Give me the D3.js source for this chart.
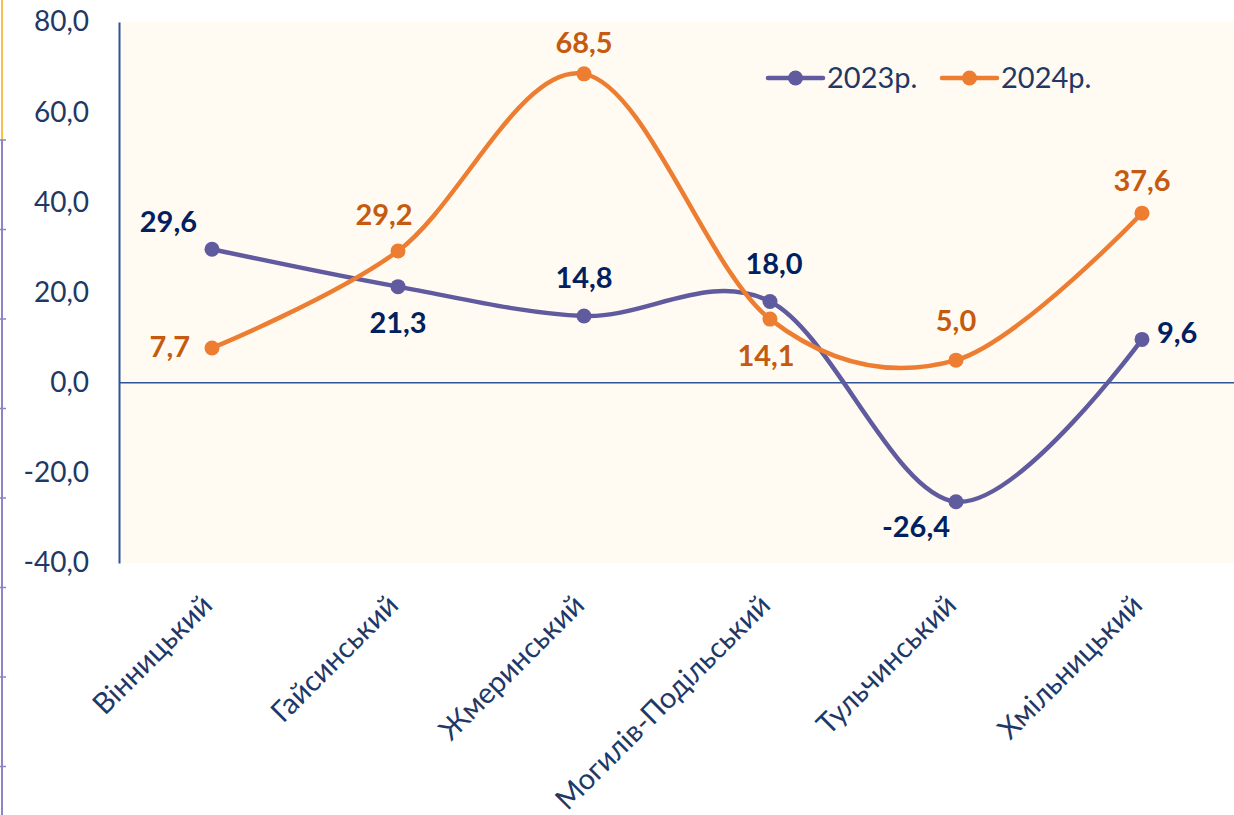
<!DOCTYPE html>
<html>
<head>
<meta charset="utf-8">
<script src="https://cdn.jsdelivr.net/npm/d3@7"></script>
<style>
  body { margin: 0; background: #fff; }
  svg { display: block; font-family: Lato, "Liberation Sans", sans-serif; }
</style>
</head>
<body>
<svg id="chart" width="1234" height="815"></svg>
<script>
const districts = ["Вінницький", "Гайсинський", "Жмеринський", "Могилів-Подільський", "Тульчинський", "Хмільницький"]
const values2023 = [29.6, 21.3, 14.8, 18.0, -26.4, 9.6]
const values2024 = [7.7, 29.2, 68.5, 14.1, 5.0, 37.6]
const yTicks = [-40, -20, 0, 20, 40, 60, 80]
const seriesNames = ["2023р.", "2024р."]

// label placement per point: [dx, dy, anchor]
const labelPos2023 = [[-15, -17, "end"], [0, 46, "middle"], [0, -28, "middle"], [4, -28, "middle"], [-6, 35, "end"], [15, 4, "start"]]
const labelPos2024 = [[-22, 9, "end"], [-14, -26, "middle"], [0, -21, "middle"], [-4, 47, "middle"], [0, -29, "middle"], [0, -22, "middle"]]

const svg = d3.select("#chart")
const plotLeft = 119, plotRight = 1235, plotTop = 22, plotBottom = 563

const x = d3.scalePoint().domain(districts).range([plotLeft, plotRight]).padding(0.5)
const y = d3.scaleLinear().domain([-40, 80]).range([plotBottom, plotTop])

const fmt = v => d3.format(".1f")(v).replace(".", ",").replace("−", "-")

// decorative page edge
svg.append("line").attr("x1", 2).attr("x2", 2).attr("y1", 0).attr("y2", 140)
    .attr("stroke", "#F2C14E").attr("stroke-width", 2)
svg.append("line").attr("x1", 2).attr("x2", 2).attr("y1", 140).attr("y2", 815)
    .attr("stroke", "#8C84C4").attr("stroke-width", 2)
d3.range(140, 815, 89.5).forEach(v => {
    svg.append("line").attr("x1", 0).attr("x2", 6).attr("y1", v).attr("y2", v)
        .attr("stroke", "#8C84C4").attr("stroke-width", 1.5)
})

// plot background
svg.append("rect").attr("x", plotLeft).attr("y", plotTop)
    .attr("width", plotRight - plotLeft).attr("height", plotBottom - plotTop)
    .attr("fill", "#FFFBF2")

// y axis
const yAxis = svg.append("g").attr("transform", `translate(${plotLeft},0)`)
    .call(d3.axisLeft(y).tickValues(yTicks).tickFormat(fmt).tickSize(0).tickPadding(30))
yAxis.select(".domain").attr("stroke", "#2F5597").attr("stroke-width", 2)
yAxis.selectAll("text").attr("fill", "#1F3864").attr("font-size", 28)
    .attr("font-family", "Lato, 'Liberation Sans', sans-serif")

// zero line
svg.append("line").attr("x1", plotLeft).attr("x2", plotRight).attr("y1", y(0)).attr("y2", y(0))
    .attr("stroke", "#2F5597").attr("stroke-width", 1.5)

// category labels
svg.append("g").selectAll("text").data(districts).join("text")
    .attr("transform", d => `translate(${x(d) + 2},${plotBottom + 44}) rotate(-45)`)
    .attr("text-anchor", "end")
    .attr("fill", "#1F3864").attr("font-size", 29)
    .text(d => d)

const series = [
    { name: seriesNames[0], values: values2023, color: "#5F5B9E", labelColor: "#002060", pos: labelPos2023 },
    { name: seriesNames[1], values: values2024, color: "#ED7D31", labelColor: "#C55A11", pos: labelPos2024 }
]

const line = d3.line()
    .x((d, i) => x(districts[i]))
    .y(d => y(d))
    .curve(d3.curveCardinal.tension(0))

series.forEach(s => {
    svg.append("path").datum(s.values)
        .attr("d", line)
        .attr("fill", "none")
        .attr("stroke", s.color)
        .attr("stroke-width", 4.5)
        .attr("stroke-linecap", "round")
    svg.append("g").selectAll("circle").data(s.values).join("circle")
        .attr("cx", (d, i) => x(districts[i]))
        .attr("cy", d => y(d))
        .attr("r", 7.5)
        .attr("fill", s.color)
})

series.forEach(s => {
    svg.append("g").selectAll("text").data(s.values).join("text")
        .attr("x", (d, i) => x(districts[i]) + s.pos[i][0])
        .attr("y", (d, i) => y(d) + s.pos[i][1])
        .attr("text-anchor", (d, i) => s.pos[i][2])
        .attr("fill", s.labelColor)
        .attr("font-size", 29).attr("font-weight", "bold")
        .text(fmt)
})

// legend
const legend = svg.append("g").attr("transform", "translate(768,78)")
series.forEach((s, i) => {
    const g = legend.append("g").attr("transform", `translate(${i * 174},0)`)
    g.append("line").attr("x1", 0).attr("x2", 55).attr("stroke", s.color)
        .attr("stroke-width", 4.5).attr("stroke-linecap", "round")
    g.append("circle").attr("cx", 27.5).attr("r", 7.5).attr("fill", s.color)
    g.append("text").attr("x", 59).attr("dy", "0.36em")
        .attr("fill", "#1F3864").attr("font-size", 29).text(s.name)
})
</script>
</body>
</html>
